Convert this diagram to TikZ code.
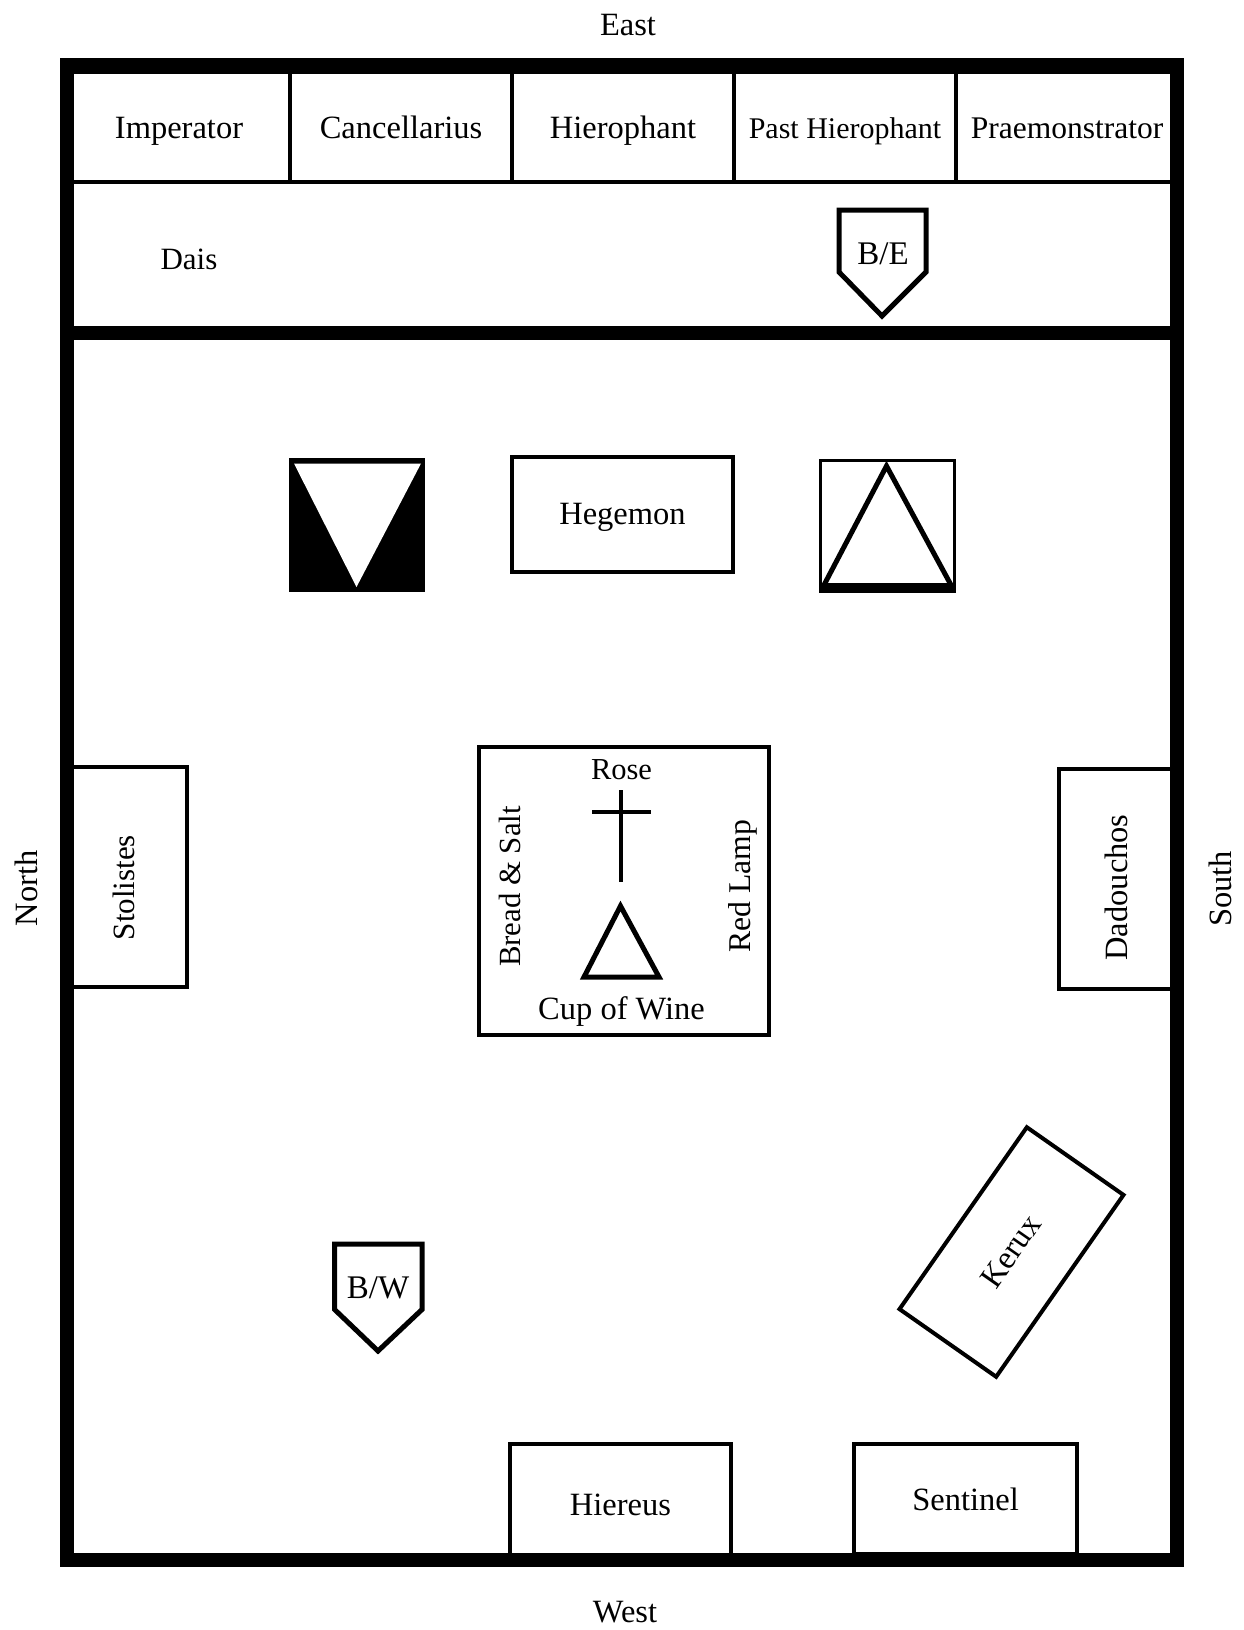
\documentclass[tikz,border=0pt]{standalone}
\usepackage{fontspec}
\setmainfont{Liberation Serif}
\usetikzlibrary{calc, positioning}

\newcommand{\fs}[1]{\fontsize{#1}{36}\selectfont}

\begin{document}
\begin{tikzpicture}[
  x=1pt, y=-1pt,
  font=\fs{32.5},
  wall/.style={draw=black, line width=14pt, line join=miter},
  label/.style={inner sep=0pt, outer sep=0pt},
  seat/.style={draw=black, line width=4pt, minimum width=222pt, minimum height=110pt,
               inner sep=0pt, outer sep=0pt, text height=30pt, text depth=6.6pt, align=center},
  station/.style={draw=black, fill=white, line width=4pt, inner sep=0pt, outer sep=0pt,
                  text height=25pt, text depth=6pt},
  sidetext/.style={label, rotate=90},
  pointer/.style={draw=black, fill=white, line width=5pt, line join=miter},
  emblem/.style={draw=black, line width=5pt, line join=miter}
]
\useasboundingbox (0,0) rectangle (1243,1630);

\node[label] (east) at (628,25) {East};
\node[label] (west) at (625,1612) {West};
\node[sidetext] (north) at (26,888.5) {North};
\node[sidetext] (south) at (1220,889) {South};

\node[seat] (imperator) at (179,127) {Imperator};
\node[seat, right=0pt of imperator] (cancellarius) {Cancellarius};
\node[seat, right=0pt of cancellarius] (hierophant) {Hierophant};
\node[seat, right=0pt of hierophant] (past) {\fs{30}Past Hierophant};
\node[seat, right=0pt of past] (praem) {\fs{31.5}Praemonstrator};

\node[label] (dais) at (189,259) {\fs{31}Dais};
\draw[pointer] (839,210) -- (926,210) -- (926,272) -- (882,316) -- (839,272) -- cycle;
\node[label] (be) at (883,254) {\fs{33}B/E};

\node[draw=black, fill=black, minimum width=135pt, minimum height=133pt, inner sep=0pt, outer sep=0pt] (pillarblack) at (356.5,524.5) {};
\path[fill=white] (294,463.5) -- (421,463.5) -- (356.5,587) -- cycle;
\node[station, minimum width=221pt, minimum height=115pt] (hegemon) at (622.5,514.5) {Hegemon};
\node[draw=black, line width=3pt, minimum width=134pt, minimum height=131pt, inner sep=0pt, outer sep=0pt] (pillarwhite) at (887.5,525.5) {};
\fill[black] (pillarwhite.south west) rectangle ($(pillarwhite.south east)+(0,-8)$);
\draw[emblem] (824,585) -- (886.5,466) -- (951,585);

\node[draw=black, line width=4pt, minimum width=290pt, minimum height=288pt, inner sep=0pt, outer sep=0pt] (altar) at (624,891) {};
\node[label] (rose) at (621.5,770) {\fs{30.5}Rose};
\node[label] (cup) at (621.5,1012) {Cup of Wine};
\node[sidetext] (bread) at (510,886.5) {\fs{30.8}Bread \& Salt};
\node[sidetext] (lamp) at (743,886.5) {\fs{31.7}Red Lamp};
\draw[line width=4pt] (620.5,790) -- (620.5,882);
\draw[line width=4pt] (592,812) -- (651,812);
\draw[emblem] (620.5,906) -- (659,977) -- (584,977) -- cycle;

\node[station, rotate=90, minimum width=220pt, minimum height=124pt] (stolistes) at (125,877) {\fs{31}Stolistes\hspace*{21pt}};
\node[station, rotate=90, minimum width=220pt, minimum height=118pt] (dadouchos) at (1118,878.5) {Dadouchos\hspace*{18pt}};

\node[station, rotate=55, minimum width=222pt, minimum height=118pt] (kerux) at (1011.5,1252) {Kerux};

\draw[pointer] (334.6,1244) -- (422,1244) -- (422,1309.5) -- (378,1351) -- (334.6,1309.5) -- cycle;
\node[label] (bw) at (378,1288) {\fs{33}B/W};

\node[station, text height=29pt, minimum width=221pt, minimum height=121pt] (hiereus) at (620.5,1504) {Hiereus};
\node[station, text height=29pt, minimum width=223pt, minimum height=110pt] (sentinel) at (965.5,1499) {Sentinel};

\draw[wall] (67,65) rectangle (1177,1560);
\draw[wall] (67,332.5) -- (1177,332.5);
\end{tikzpicture}
\end{document}
